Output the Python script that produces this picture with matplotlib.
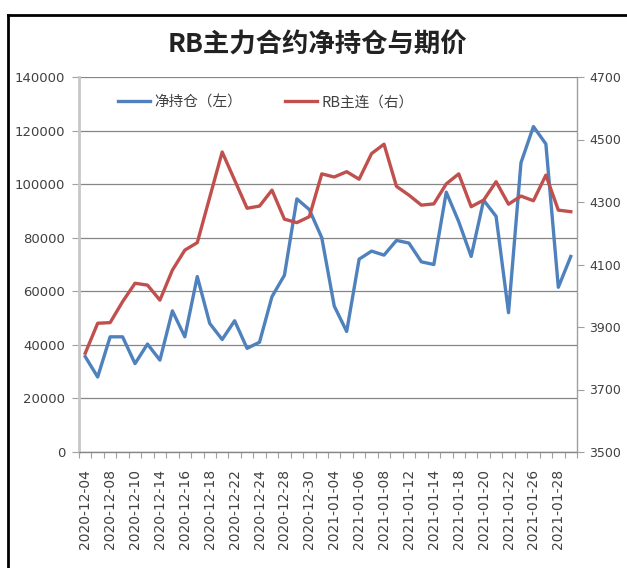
import matplotlib
matplotlib.use('Agg')
import matplotlib.pyplot as plt
from matplotlib.lines import Line2D
import numpy as np

plt.rcParams['font.family'] = ['Noto Sans CJK SC', 'DejaVu Sans']
plt.rcParams['axes.unicode_minus'] = False

# 交易日
dates = ['2020-12-04', '2020-12-07', '2020-12-08', '2020-12-09', '2020-12-10',
         '2020-12-11', '2020-12-14', '2020-12-15', '2020-12-16', '2020-12-17',
         '2020-12-18', '2020-12-21', '2020-12-22', '2020-12-23', '2020-12-24',
         '2020-12-25', '2020-12-28', '2020-12-29', '2020-12-30', '2020-12-31',
         '2021-01-04', '2021-01-05', '2021-01-06', '2021-01-07', '2021-01-08',
         '2021-01-11', '2021-01-12', '2021-01-13', '2021-01-14', '2021-01-15',
         '2021-01-18', '2021-01-19', '2021-01-20', '2021-01-21', '2021-01-22',
         '2021-01-25', '2021-01-26', '2021-01-27', '2021-01-28', '2021-01-29']

# 净持仓（左轴）
net_pos = [35600, 28000, 43000, 43000, 33000, 40300, 34300, 52700, 43000, 65500,
           48000, 42000, 49000, 38700, 41000, 58000, 66000, 94500, 90500, 80000,
           54500, 45000, 72000, 75000, 73500, 79000, 78000, 71000, 70000, 97000,
           86000, 73000, 94000, 88000, 52000, 108000, 121500, 115000, 61500, 73000]

# RB主连（右轴）
rb_price = [3816, 3912, 3914, 3981, 4040, 4034, 3986, 4082, 4146, 4170,
            4315, 4460, 4370, 4280, 4287, 4338, 4245, 4234, 4253, 4390,
            4380, 4397, 4373, 4455, 4485, 4350, 4322, 4290, 4294, 4358,
            4390, 4285, 4306, 4365, 4293, 4319, 4304, 4386, 4274, 4269]

blue = '#4F81BD'
red = '#C0504D'
grid_c = '#868686'
txt_c = '#404040'

fig = plt.figure(figsize=(6.27, 5.68), dpi=100)
ax = fig.add_axes([79 / 627, 1 - 452 / 568, 498 / 627, 375 / 568])
ax2 = ax.twinx()

x = np.arange(len(dates))
l1, = ax.plot(x, net_pos, color=blue, linewidth=2.4, label='净持仓（左）', zorder=3)
l2, = ax2.plot(x, rb_price, color=red, linewidth=2.4, label='RB主连（右）', zorder=3)

ax.set_xlim(-0.5, len(dates) - 0.5)
ax.set_ylim(0, 140000)
ax.set_yticks(np.arange(0, 140001, 20000))
ax2.set_ylim(3500, 4700)
ax2.set_yticks(np.arange(3500, 4701, 200))

ax.grid(axis='y', color=grid_c, linewidth=0.9)
ax.set_axisbelow(True)

# x轴：每隔一个交易日标注
ax.set_xticks(x[::2])
ax.set_xticklabels(dates[::2], rotation=90, family='DejaVu Sans')
ax.set_xticks(np.arange(-0.5, len(dates), 1), minor=True)
ax.tick_params(axis='x', which='major', length=0, pad=12, labelsize=10, colors=txt_c)
ax.tick_params(axis='x', which='minor', length=4, color='#A0A0A0', width=0.8)
ax.tick_params(axis='y', length=5, color='#A0A0A0', labelsize=9.5, colors=txt_c, pad=5)
ax2.tick_params(axis='y', length=5, color='#A0A0A0', labelsize=9, colors=txt_c, pad=4)
for lab in ax.get_yticklabels() + ax2.get_yticklabels():
    lab.set_family('DejaVu Sans')

for a in (ax, ax2):
    a.spines['top'].set_visible(False)
ax.spines['left'].set_color('#C8C8C8')
ax.spines['left'].set_linewidth(2)
ax.spines['bottom'].set_color(grid_c)
ax.spines['bottom'].set_linewidth(1)
ax2.spines['right'].set_color('#A0A0A0')
ax2.spines['left'].set_visible(False)
ax2.spines['bottom'].set_visible(False)

ax.legend(handles=[l1, l2], loc='center left', bbox_to_anchor=(0.064, 0.932),
          ncol=2, frameon=False, fontsize=10.5, handlelength=2.2, handletextpad=0.25,
          columnspacing=3.0, borderpad=0, labelcolor=txt_c)

fig.text(0.507, 1 - 45 / 568, 'RB主力合约净持仓与期价', ha='center', va='center',
         fontsize=19, fontweight='bold', color='#222222')

# 外框
fig.add_artist(Line2D([8 / 627, 1], [1 - 15 / 568, 1 - 15 / 568], color='black', linewidth=2))
fig.add_artist(Line2D([8 / 627, 8 / 627], [0, 1 - 15 / 568], color='black', linewidth=2))

fig.savefig('out.png', dpi=100)
